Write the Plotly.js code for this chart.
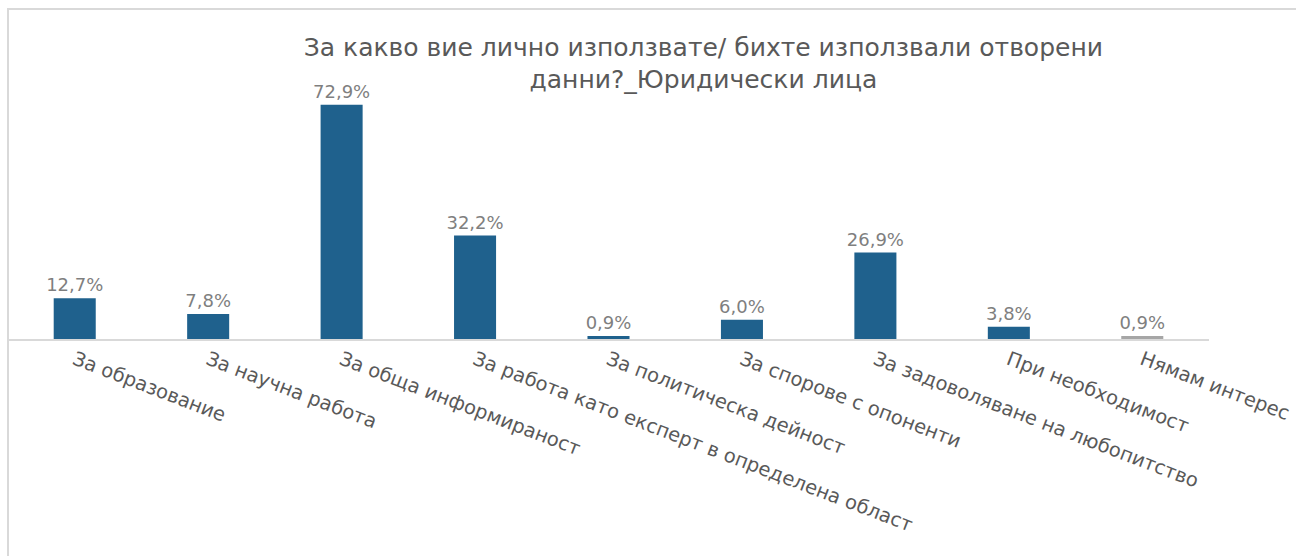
<!DOCTYPE html>
<html>
<head>
<meta charset="utf-8">
<script src="https://cdn.plot.ly/plotly-3.0.1.min.js"></script>
<style>html,body{margin:0;padding:0;background:#fff;}#chart{width:1296px;height:556px;}</style>
</head>
<body>
<div id="chart"></div>
<script>
const categories = [
  "За образование",
  "За научна работа",
  "За обща информираност",
  "За работа като експерт в определена област",
  "За политическа дейност",
  "За спорове с опоненти",
  "За задоволяване на любопитство",
  "При необходимост",
  "Нямам интерес"
];
const values = [12.7, 7.8, 72.9, 32.2, 0.9, 6.0, 26.9, 3.8, 0.9];
const labels = values.map(v => v.toFixed(1).replace('.', ',') + '%');
const barColors = values.map((v, i) => i === values.length - 1 ? '#a6a6a6' : '#1f618d');

const trace = {
  type: 'bar',
  x: categories,
  y: values,
  text: labels,
  textposition: 'outside',
  constraintext: 'none',
  cliponaxis: false,
  textfont: {family: 'DejaVu Sans', size: 18, color: '#7f7f7f'},
  marker: {color: barColors},
  hoverinfo: 'none'
};

const layout = {
  width: 1296,
  height: 556,
  margin: {l: 8, r: 86.5, t: 66, b: 217},
  paper_bgcolor: '#ffffff',
  plot_bgcolor: '#ffffff',
  bargap: 0.685,
  showlegend: false,
  title: {
    text: 'За какво вие лично използвате/ бихте използвали отворени<br>данни?_Юридически лица',
    font: {family: 'DejaVu Sans', size: 25, color: '#595959'},
    x: 0.579, xref: 'paper', xanchor: 'center',
    y: 0.90, yref: 'container', yanchor: 'top'
  },
  xaxis: {
    type: 'category',
    tickangle: 21,
    showline: true,
    linecolor: '#d9d9d9',
    linewidth: 2,
    ticks: '',
    showgrid: false,
    zeroline: false,
    tickfont: {family: 'DejaVu Sans', size: 19.5, color: '#595959'},
    automargin: false
  },
  yaxis: {
    range: [0, 85],
    visible: false,
    showgrid: false,
    zeroline: false
  },
  shapes: [{
    type: 'path',
    xref: 'paper', yref: 'paper',
    path: 'M 0 -0.9 L 0 1.2088 L 1.1 1.2088',
    line: {color: '#d9d9d9', width: 2}
  }]
};

Plotly.newPlot('chart', [trace], layout, {staticPlot: true, displayModeBar: false});
</script>
</body>
</html>
